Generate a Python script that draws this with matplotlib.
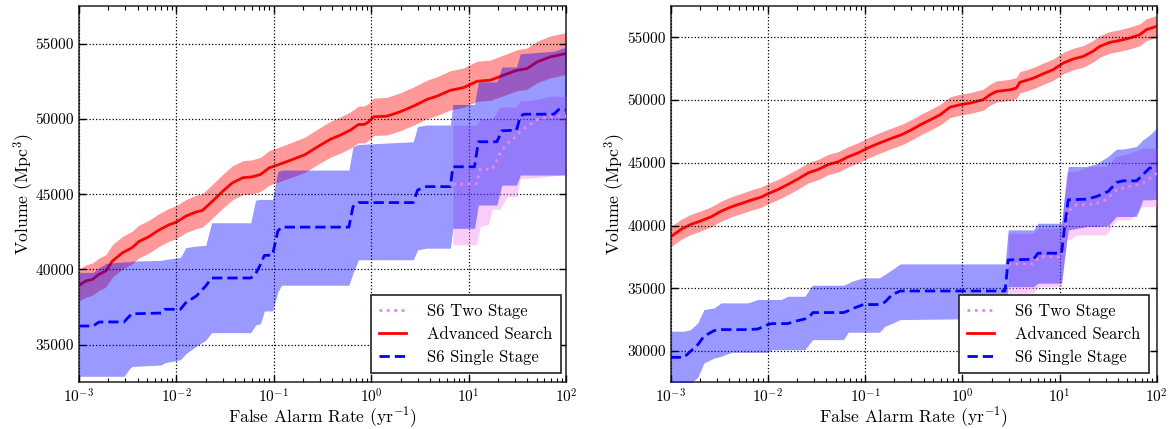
import matplotlib
matplotlib.use("Agg")
import matplotlib.pyplot as plt
from matplotlib.ticker import FixedLocator, FuncFormatter

plt.rcParams['font.family'] = ['cmr10', 'DejaVu Serif']
plt.rcParams['mathtext.fontset'] = 'cm'
plt.rcParams['axes.formatter.use_mathtext'] = True
plt.rcParams['axes.unicode_minus'] = True

# ---------------- Left panel data ----------------
L_adv_far = [1e-3, 1.17e-3, 1.37e-3, 1.6e-3, 1.88e-3, 2.2e-3, 2.8e-3, 3.5e-3, 4.1e-3, 5.2e-3,
             6.6e-3, 8.4e-3, 1e-2, 1.25e-2, 1.58e-2, 1.85e-2, 2.35e-2, 3e-2, 3.75e-2, 4.8e-2,
             6e-2, 7.3e-2, 9e-2, 1.13e-1, 1.55e-1, 2.1e-1, 2.9e-1, 3.8e-1, 4.8e-1, 6.1e-1,
             7.4e-1, 8.5e-1, 9.4e-1, 1.06, 1.45, 1.98, 2.72, 3.73, 4.73, 6.5,
             8.9, 12.2, 16.7, 22.9, 31.3, 39.8, 50.4, 69, 100]
L_adv_vol = [38940, 39230, 39340, 39670, 39890, 40555, 41110, 41440, 41840, 42170,
             42610, 42970, 43140, 43540, 43810, 43920, 44540, 45200, 45750, 46090,
             46150, 46310, 46750, 46970, 47300, 47630, 48200, 48640, 48920, 49250,
             49630, 49630, 49800, 50140, 50180, 50470, 50850, 51290, 51510, 51900,
             52080, 52500, 52570, 52900, 53230, 53340, 53780, 54120, 54340]
L_adv_lo = [37900, 38150, 38280, 38600, 38820, 39480, 40030, 40360, 40760, 41080,
            41520, 41880, 42040, 42440, 42700, 42810, 43420, 44080, 44620, 44960,
            45020, 45170, 45600, 45820, 46140, 46460, 47020, 47450, 47720, 48040,
            48410, 48400, 48570, 48900, 48930, 49210, 49580, 50010, 50220, 50600,
            50770, 51170, 51230, 51550, 51870, 51970, 52400, 52730, 52950]
L_adv_hi = [40000, 40300, 40420, 40750, 40970, 41640, 42200, 42530, 42930, 43260,
            43700, 44060, 44240, 44640, 44920, 45030, 45660, 46320, 46880, 47220,
            47280, 47450, 47900, 48120, 48460, 48800, 49380, 49830, 50120, 50460,
            50850, 50860, 51030, 51380, 51430, 51730, 52120, 52570, 52800, 53200,
            53390, 53830, 53910, 54250, 54590, 54710, 55160, 55510, 55730]

L_s1_far = [1e-3, 1.4e-3, 1.6e-3, 1.9e-3, 2.9e-3, 3.3e-3, 3.5e-3, 7e-3, 7.6e-3, 1.1e-2,
            1.25e-2, 1.6e-2, 2e-2, 2.3e-2, 5.8e-2, 6.5e-2, 7.3e-2, 8e-2, 9.7e-2, 1.1e-1,
            1.2e-1, 0.59, 0.65, 0.74, 2.7, 3.0, 3.7, 6.5, 6.9, 11.5,
            12.6, 19.5, 22, 31, 34, 37, 75, 84, 100]
L_s1_vol = [36240, 36240, 36500, 36510, 36510, 36900, 37050, 37100, 37350, 37350,
            37790, 38230, 38900, 39430, 39430, 39700, 40330, 40930, 40950, 42550,
            42810, 42810, 44170, 44440, 44440, 45280, 45500, 45500, 46820, 46820,
            48480, 48480, 49210, 49250, 50180, 50310, 50310, 50620, 50580]
L_s1_lo = [32900, 32900, 32900, 32900, 32900, 33400, 33550, 33650, 33800, 34000,
           34400, 34900, 35300, 35800, 35800, 36300, 36400, 37240, 37240, 38500,
           38950, 38950, 39750, 40640, 40640, 41300, 41410, 41410, 42730, 42730,
           44280, 44280, 45600, 45600, 46270, 46270, 46270, 46270, 46270]
L_s1_hi = [39800, 39800, 40100, 40400, 40500, 40500, 40550, 40600, 40650, 40800,
           41450, 41550, 41600, 43100, 43100, 44600, 44650, 44650, 44650, 46500,
           46600, 46600, 48150, 48300, 48480, 49500, 49590, 49590, 50960, 50960,
           52460, 52460, 53450, 53450, 54340, 54340, 54500, 54600, 54780]

L_s2_far = [6.9, 12.0, 13.2, 16, 17.5, 21, 24.8, 31, 34, 39.5, 50, 69, 100]
L_s2_vol = [45670, 45670, 46650, 46650, 46650, 47700, 48370, 48860, 49200, 49480, 49920, 50180, 50180]
L_s2_lo = [41630, 41630, 42850, 43000, 44000, 44000, 44830, 44830, 46050, 46050, 46100, 46200, 46300]
L_s2_hi = [49590, 49590, 50000, 50000, 50000, 50800, 50800, 50800, 51200, 51200, 51300, 51500, 51500]

# ---------------- Right panel data ----------------
R_adv_far = [1e-3, 1.27e-3, 1.6e-3, 2e-3, 2.6e-3, 3.3e-3, 4.2e-3, 5.3e-3, 6.7e-3, 8.5e-3,
             1e-2, 1.27e-2, 1.6e-2, 2.05e-2, 2.6e-2, 3.3e-2, 4.2e-2, 5.3e-2, 6.7e-2, 8.5e-2,
             1.08e-1, 1.37e-1, 1.74e-1, 2.4e-1, 3e-1, 3.7e-1, 4.7e-1, 5.9e-1, 7.5e-1, 9.5e-1,
             1.2, 1.64, 1.92, 2.25, 3.1, 3.6, 3.9, 5.4, 6.8, 8.6,
             10.9, 13.8, 17.5, 22, 26, 33, 42, 53, 67, 78, 100]
R_adv_vol = [39100, 39680, 40080, 40340, 40690, 41140, 41490, 41750, 42020, 42260,
             42530, 42870, 43270, 43720, 44200, 44470, 44870, 45080, 45480, 45800,
             46200, 46540, 46860, 47260, 47630, 48030, 48430, 48830, 49440, 49630,
             49760, 50030, 50420, 50690, 50820, 50960, 51410, 51750, 52100, 52420,
             52950, 53270, 53480, 53880, 54280, 54600, 54760, 54950, 55210, 55610, 55880]
R_adv_lo = [38300, 38880, 39280, 39540, 39890, 40340, 40690, 40950, 41210, 41450,
            41720, 42060, 42460, 42910, 43390, 43660, 44060, 44270, 44670, 44990,
            45390, 45720, 46040, 46440, 46810, 47210, 47610, 48010, 48610, 48800,
            48930, 49190, 49580, 49850, 49980, 50120, 50560, 50900, 51250, 51570,
            52100, 52410, 52620, 53020, 53420, 53740, 53900, 54080, 54340, 54740, 55000]
R_adv_hi = [39900, 40480, 40880, 41140, 41490, 41940, 42290, 42550, 42830, 43070,
            43340, 43680, 44080, 44530, 45010, 45280, 45680, 45890, 46290, 46610,
            47010, 47360, 47680, 48080, 48450, 48850, 49250, 49650, 50270, 50460,
            50590, 50870, 51260, 51530, 51660, 51800, 52260, 52600, 52950, 53270,
            53800, 54130, 54340, 54740, 55140, 55460, 55620, 55820, 56080, 56480, 56750]

R_s1_far = [1e-3, 1.37e-3, 1.6e-3, 1.9e-3, 2.2e-3, 2.8e-3, 3.3e-3, 4.2e-3, 6.2e-3, 7.9e-3,
            1e-2, 1.1e-2, 1.37e-2, 1.6e-2, 1.9e-2, 2.4e-2, 2.8e-2, 2.9e-2, 6e-2, 6.7e-2,
            7.3e-2, 9.6e-2, 1.4e-1, 1.6e-1, 1.9e-1, 2.3e-1, 2.75, 2.97, 5.4, 6.0,
            10.5, 11.3, 12.3, 19, 24, 31.6, 38.5, 45, 62, 72, 84, 100]
R_s1_vol = [29490, 29490, 29970, 30500, 31170, 31620, 31700, 31700, 31700, 31750,
            32100, 32180, 32180, 32180, 32360, 32550, 32900, 33060, 33060, 33200,
            33350, 33700, 33700, 33900, 34490, 34780, 34780, 37260, 37310, 37790,
            37790, 39920, 42050, 42100, 42310, 42710, 43430, 43560, 43560, 44040, 44570, 44700]
R_s1_lo = [27400, 27400, 27400, 27900, 29040, 29440, 29570, 29890, 29890, 29890,
           29890, 30100, 30100, 30100, 30100, 30100, 30770, 30900, 30900, 31490,
           31490, 31490, 31490, 31970, 32200, 32500, 32600, 35130, 35130, 35400,
           35400, 37500, 39650, 39920, 39920, 40000, 40720, 40720, 40720, 42050, 42050, 42100]
R_s1_hi = [31570, 31570, 31700, 32240, 33300, 33430, 33830, 33830, 33830, 34100,
           34100, 34100, 34100, 34360, 34360, 34360, 35160, 35240, 35240, 35400,
           35560, 35830, 35830, 36100, 36490, 36940, 36940, 39650, 39650, 40180,
           40180, 42500, 44710, 44710, 44920, 45500, 46090, 46090, 46300, 46830, 47200, 47760]

R_s2_far = [2.97, 5.4, 6.0, 6.8, 10.5, 11.8, 12.8, 15, 20, 24, 30, 38.5, 53, 72, 100]
R_s2_vol = [36940, 36940, 37390, 37520, 37520, 40450, 41250, 41650, 41650, 41780, 42050, 42840, 43110, 43380, 44170]
R_s2_lo = [34600, 34600, 35130, 35130, 35130, 38860, 38860, 39250, 39250, 39250, 39250, 40450, 40450, 41510, 41510]
R_s2_hi = [39380, 39380, 39780, 39780, 39780, 44310, 44310, 44310, 44710, 44710, 44710, 45500, 45770, 46170, 46170]

legend_labels = ['S6 Two Stage', 'Advanced Search', 'S6 Single Stage']
L_yticks = [35000, 40000, 45000, 50000, 55000]
R_yticks = [30000, 35000, 40000, 45000, 50000, 55000]
L_ylim = (32500, 57500)
R_ylim = (27500, 57500)

fig = plt.figure(figsize=(11.7, 4.29), dpi=100)
axL = fig.add_axes([79/1170, 1-382.3/429, 487/1170, 376.3/429])
axR = fig.add_axes([670.7/1170, 1-382.3/429, 486/1170, 376.3/429])


def draw(ax, adv, s1, s2, yticks, ylim, leg_anchor):
    (af, av, al, ah) = adv
    (sf, sv, sl, sh) = s1
    (tf, tv, tl, th) = s2
    ax.fill_between(af, al, ah, color='red', alpha=0.4, lw=0, zorder=1)
    ax.plot(af, av, color='red', lw=2.0, zorder=2)
    ax.fill_between(tf, tl, th, color='violet', alpha=0.4, lw=0, zorder=3)
    ax.fill_between(sf, sl, sh, color='blue', alpha=0.4, lw=0, zorder=3)
    h2, = ax.plot(tf, tv, color='violet', lw=2.0, ls=':', zorder=4)
    h1, = ax.plot(sf, sv, color='blue', lw=2.0, ls='--', dashes=(3.7, 1.8), zorder=5)
    hA, = ax.plot([], [], color='red', lw=2.0)
    ax.set_xscale('log')
    ax.set_xlim(1e-3, 1e2)
    ax.set_ylim(*ylim)
    ax.yaxis.set_major_locator(FixedLocator(yticks))
    ax.yaxis.set_major_formatter(FuncFormatter(lambda v, p: '%d' % v))
    ax.grid(True, which='major', color='black', ls=':', lw=0.9)
    ax.set_axisbelow(False)
    ax.tick_params(which='both', direction='in', top=True, right=True, labelsize=11)
    ax.tick_params(which='major', length=5, width=1)
    ax.tick_params(which='minor', length=3, width=0.8)
    for s in ax.spines.values():
        s.set_linewidth(1.2)
        s.set_color('#333333')
    ax.set_xlabel(r'False Alarm Rate (yr$^{-1}$)', fontsize=12.6, labelpad=0)
    ax.set_ylabel(r'Volume (Mpc$^{3}$)', fontsize=12.8, labelpad=-1)
    leg = ax.legend([h2, hA, h1], legend_labels, loc='lower right',
                    bbox_to_anchor=leg_anchor, borderaxespad=0, fontsize=12,
                    fancybox=False, framealpha=1, edgecolor='#222222',
                    handlelength=1.6, handletextpad=1.3, borderpad=0.5,
                    labelspacing=0.45)
    leg.get_frame().set_linewidth(1.2)
    leg.set_zorder(10)


draw(axL, (L_adv_far, L_adv_vol, L_adv_lo, L_adv_hi),
     (L_s1_far, L_s1_vol, L_s1_lo, L_s1_hi),
     (L_s2_far, L_s2_vol, L_s2_lo, L_s2_hi), L_yticks, L_ylim, (0.99, 0.025))
draw(axR, (R_adv_far, R_adv_vol, R_adv_lo, R_adv_hi),
     (R_s1_far, R_s1_vol, R_s1_lo, R_s1_hi),
     (R_s2_far, R_s2_vol, R_s2_lo, R_s2_hi), R_yticks, R_ylim, (0.984, 0.025))

fig.savefig('out.png', dpi=100)
